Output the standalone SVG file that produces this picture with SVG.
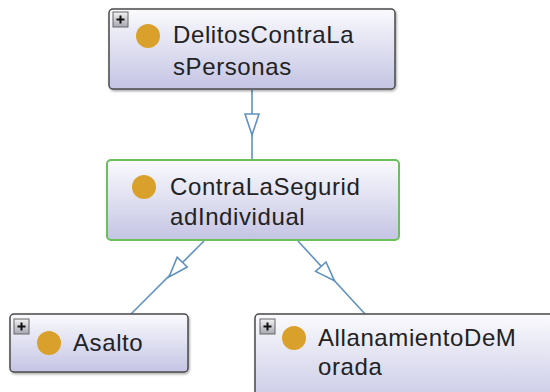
<svg xmlns="http://www.w3.org/2000/svg" width="550" height="392" viewBox="0 0 550 392">
<defs>
<linearGradient id="nodeFill" x1="0" y1="0" x2="0" y2="1">
<stop offset="0" stop-color="#fafafd"/>
<stop offset="1" stop-color="#c4c4e4"/>
</linearGradient>
<linearGradient id="plusFill" x1="0" y1="0" x2="0" y2="1">
<stop offset="0" stop-color="#f2f2f2"/>
<stop offset="1" stop-color="#a8a8b4"/>
</linearGradient>
<filter id="shadow" x="-5%" y="-5%" width="110%" height="115%">
<feDropShadow dx="1" dy="1.5" stdDeviation="1" flood-color="#000" flood-opacity="0.35"/>
</filter>
<g id="plus">
<rect x="0" y="0" width="15" height="15" fill="url(#plusFill)" stroke="#666" stroke-width="1"/>
<path d="M3.5 7.5H11.5M7.5 3.5V11.5" stroke="#111" stroke-width="2"/>
</g>
</defs>
<style>
.node{fill:url(#nodeFill);stroke:#4a4a4a;stroke-width:1.5;filter:url(#shadow)}
.sel{fill:url(#nodeFill);stroke:#6cc05c;stroke-width:2}
.dot{fill:#d9a12c}
.lbl{font-family:"Liberation Sans",Arial,sans-serif;font-size:24px;letter-spacing:0.6px;fill:#222222}
.edge{stroke:#5f92bf;stroke-width:1.6;fill:none}
.head{stroke:#5f92bf;stroke-width:1.6;fill:#ffffff}
</style>
<rect width="550" height="392" fill="#ffffff"/>
<g id="connectors">
<line class="edge" x1="252" y1="90" x2="252" y2="160"/>
<polygon class="head" points="245,114 259,114 252,135"/>
<line class="edge" x1="204" y1="241" x2="130" y2="315"/>
<polygon class="head" points="187.2,267 177.2,257.2 169,277"/>
<line class="edge" x1="298" y1="241" x2="365" y2="314"/>
<polygon class="head" points="326,262 315.6,271.4 334.5,280.8"/>
</g>
<g id="DelitosContraLasPersonas">
<rect class="node" x="109" y="9" width="286" height="80" rx="4"/>
<use href="#plus" x="113" y="12"/>
<circle class="dot" cx="148" cy="36" r="12"/>
<text class="lbl" x="173" y="43">DelitosContraLa</text>
<text class="lbl" x="173" y="75">sPersonas</text>
</g>
<g id="ContraLaSeguridadIndividual">
<rect class="sel" x="107" y="160" width="292" height="80" rx="4"/>
<circle class="dot" cx="144" cy="187" r="12"/>
<text class="lbl" x="170" y="195">ContraLaSegurid</text>
<text class="lbl" x="170" y="225">adIndividual</text>
</g>
<g id="Asalto">
<rect class="node" x="10" y="314" width="178" height="58" rx="4"/>
<use href="#plus" x="14" y="319"/>
<circle class="dot" cx="49" cy="343" r="12"/>
<text class="lbl" x="73" y="351">Asalto</text>
</g>
<g id="AllanamientoDeMorada">
<rect class="node" x="255" y="314" width="310" height="100" rx="4"/>
<use href="#plus" x="260" y="319"/>
<circle class="dot" cx="294" cy="338" r="12"/>
<text class="lbl" x="318" y="346">AllanamientoDeM</text>
<text class="lbl" x="318" y="375">orada</text>
</g>
</svg>
